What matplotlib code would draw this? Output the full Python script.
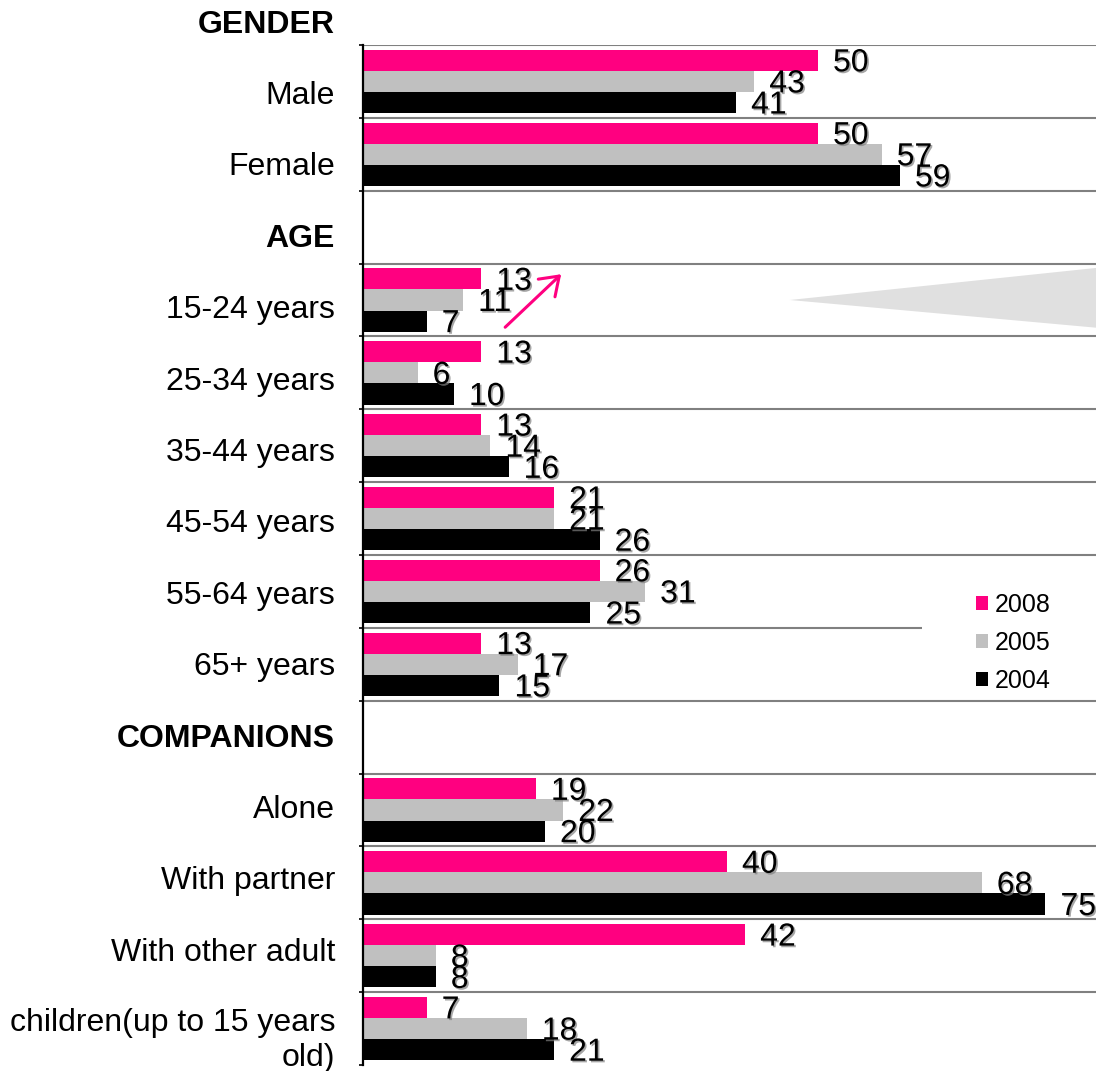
import matplotlib
matplotlib.use('Agg')
from matplotlib import pyplot as plt
from matplotlib.patches import Polygon, Rectangle
import matplotlib.patheffects as pe

plt.rcParams['font.family'] = ['Liberation Sans', 'DejaVu Sans']

# rows of the chart, top to bottom (None = section header row, no bars)
labels = ['GENDER', 'Male', 'Female', 'AGE', '15-24 years', '25-34 years',
          '35-44 years', '45-54 years', '55-64 years', '65+ years',
          'COMPANIONS', 'Alone', 'With partner', 'With other adult',
          'children(up to 15 years\nold)']
headers = ['GENDER', 'AGE', 'COMPANIONS']

v2008 = [50, 50, None, 13, 13, 13, 21, 26, 13, None, 19, 40, 42, 7]
v2005 = [43, 57, None, 11, 6, 14, 21, 31, 17, None, 22, 68, 8, 18]
v2004 = [41, 59, None, 7, 10, 16, 26, 25, 15, None, 20, 75, 8, 21]

series = [('2008', v2008, '#ff0080'),
          ('2005', v2005, '#c0c0c0'),
          ('2004', v2004, '#000000')]

fig = plt.figure(figsize=(10.96, 10.71), dpi=100)
ax = fig.add_axes([363 / 1096, 1 - 1065 / 1071, 733 / 1096, 1020 / 1071])

n = len(v2008)
h = 0.29
shadow = [pe.withSimplePatchShadow(offset=(1.2, -1.2), shadow_rgbFace='0.5', alpha=0.7)]

for j, (name, vals, col) in enumerate(series):
    off = (j - 1) * h
    ys = [i + off for i, v in enumerate(vals) if v is not None]
    xs = [v for v in vals if v is not None]
    ax.barh(ys, xs, height=h, color=col, label=name, zorder=2)
    for x, y in zip(xs, ys):
        ax.annotate(str(x), xy=(x, y), xytext=(15, -3), textcoords='offset pixels',
                    ha='left', va='center', fontsize=23, color='black',
                    path_effects=shadow, zorder=5)

# row separators
for i in range(n):
    ax.axhline(i - 0.5, color='#808080', lw=1.5, zorder=1)

ax.set_xlim(0, 80.55)
ax.set_ylim(n - 0.5, -0.5)
for s in ['top', 'right', 'bottom']:
    ax.spines[s].set_visible(False)
ax.spines['left'].set_linewidth(1.6)
ax.set_xticks([])
ax.set_yticks([i - 0.5 for i in range(n + 1)])
ax.set_yticklabels([])
ax.tick_params(axis='y', length=3, width=1.2, color='black')

# category labels on the left
for k, lab in enumerate(labels):
    y = -0.78 + 0.98 * k
    if '\n' in lab:
        y += 0.22
    ax.annotate(lab, xy=(0, y), xycoords=('axes fraction', 'data'),
                xytext=(-28, 0), textcoords='offset pixels',
                ha='right', va='center', multialignment='right', fontsize=23,
                fontweight='bold' if lab in headers else 'normal',
                annotation_clip=False)

# trend arrow and wedge on the 15-24 row
ax.annotate('', xy=(22.0, 2.62), xytext=(15.4, 3.40),
            arrowprops=dict(arrowstyle='->,head_length=0.5,head_width=0.35',
                            color='#ff0080', lw=2.2, mutation_scale=25), zorder=4)
ax.add_patch(Polygon([(46.9, 3.0), (80.55, 2.56), (80.55, 3.38)],
                     closed=True, facecolor='#e0e0e0', edgecolor='none',
                     zorder=1.5, clip_on=False))

# white backdrop behind the legend
ax.add_patch(Rectangle((0.7626, 0.38), 0.2374, 0.09, transform=ax.transAxes,
                       facecolor='white', edgecolor='none', zorder=3))
leg = ax.legend(loc='upper left', bbox_to_anchor=(980 / 1096 - 0.004, 1 - 593 / 1071),
                bbox_transform=fig.transFigure, frameon=False, fontsize=18,
                handlelength=0.5, handleheight=0.5, handletextpad=0.25,
                labelspacing=0.55, borderpad=0, borderaxespad=0)
leg.set_zorder(6)

fig.savefig('out.png', dpi=100)
